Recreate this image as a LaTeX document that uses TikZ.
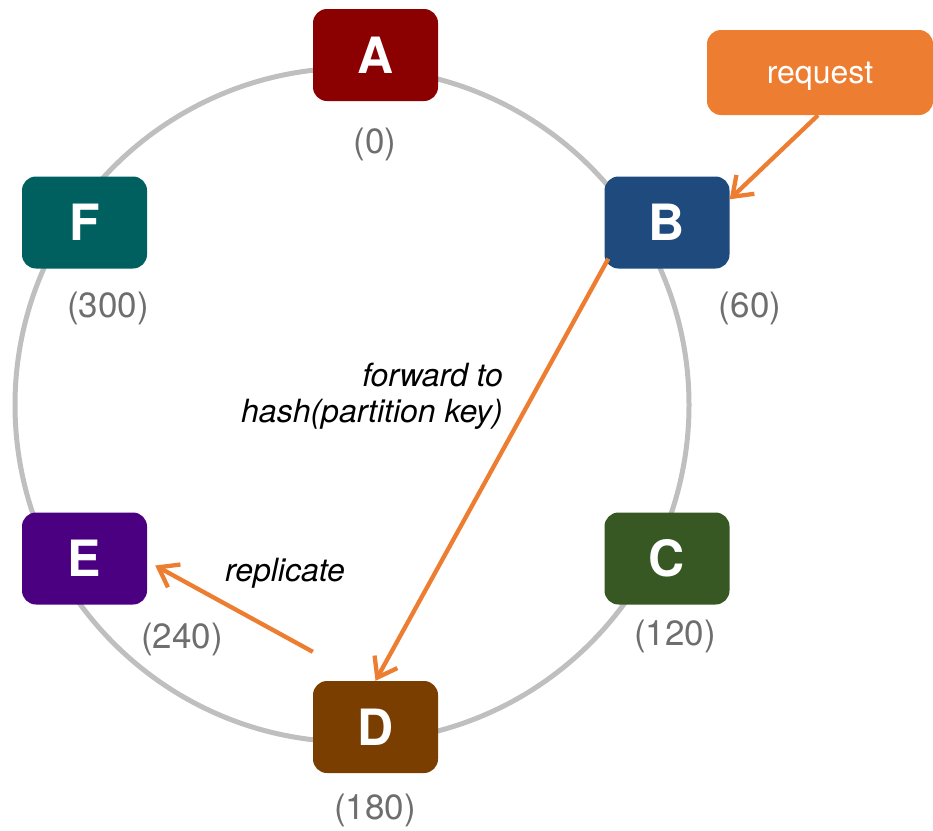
\documentclass[tikz,border=0pt]{standalone}
\usepackage{fontspec}
\setmainfont{TeX Gyre Heros}
\usetikzlibrary{arrows.meta}
\definecolor{cA}{HTML}{8B0000}
\definecolor{cB}{HTML}{1F4A7D}
\definecolor{cC}{HTML}{375723}
\definecolor{cD}{HTML}{7A3F00}
\definecolor{cE}{HTML}{4B0082}
\definecolor{cF}{HTML}{006060}
\definecolor{orng}{HTML}{ED7D31}
\definecolor{ringgray}{HTML}{BFBFBF}
\definecolor{lblgray}{HTML}{6E6E6E}
\begin{document}
\begin{tikzpicture}[x=1pt,y=-1pt,
  hnode/.style={rounded corners=14pt, minimum width=125pt, minimum height=92pt, inner sep=0pt, text=white, font=\fontsize{50}{50}\selectfont\bfseries},
  poslbl/.style={text=lblgray, font=\fontsize{35}{40}\selectfont, inner sep=0pt},
  flow/.style={draw=orng, line width=4.3pt, -{Straight Barb[length=18pt,width=26pt,line width=4.3pt]}},
  notetext/.style={font=\fontsize{32}{36}\selectfont\itshape, inner sep=0pt}]
\useasboundingbox (0,0) rectangle (933,830);
\draw[ringgray, line width=5pt] (352,405) circle[radius=337pt];
\node[hnode, fill=cA] (A) at (375.5,55) {A};
\node[hnode, fill=cB] (B) at (667,222.5) {B};
\node[hnode, fill=cC] (C) at (667,558.5) {C};
\node[hnode, fill=cD] (D) at (375.5,727) {D};
\node[hnode, fill=cE] (E) at (84.5,558.5) {E};
\node[hnode, fill=cF] (F) at (84.5,222.5) {F};
\node[rounded corners=14pt, fill=orng, minimum width=226pt, minimum height=85pt, inner sep=0pt, text depth=0pt, text=white, font=\fontsize{32}{36}\selectfont] (req) at (820,72.5) {request};
\node[poslbl] (lA) at (375,144) {(0)};
\node[poslbl] (lB) at (750,308) {(60)};
\node[poslbl] (lC) at (675,636) {(120)};
\node[poslbl] (lD) at (375,810) {(180)};
\node[poslbl] (lE) at (182,639) {(240)};
\node[poslbl] (lF) at (108,308) {(300)};
\node[notetext, align=right, anchor=east] (fwd) at (503,396) {forward to\\hash(partition key)};
\node[notetext] (rep) at (285,573) {replicate};
\draw[flow] ([xshift=-2pt]req.south) -- ([yshift=-23pt]B.north east);
\draw[flow] ([shift={(4pt,10pt)}]B.south west) -- (D.north);
\draw[flow] ([yshift=29pt]D.north west) -- ([shift={(8pt,-7pt)}]E.east);
\end{tikzpicture}
\end{document}
